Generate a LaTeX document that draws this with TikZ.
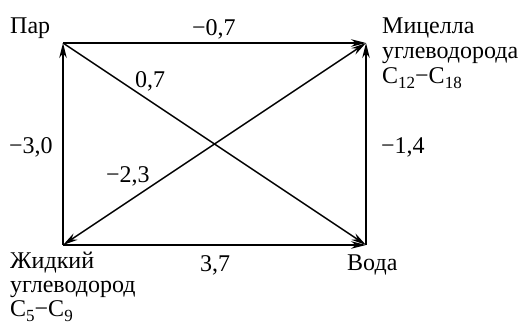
\documentclass[tikz,border=0pt]{standalone}
\usepackage{fontspec}
\setmainfont{Liberation Serif}
\usetikzlibrary{arrows.meta}
\newcommand{\lowsub}[1]{\raisebox{-5pt}{\fontsize{17}{17}\selectfont #1}}
\tikzset{
  lbl/.style={inner sep=0pt, anchor=base west, font=\fontsize{24}{25}\selectfont},
  con/.style={line width=1.5pt, -{Stealth[length=15pt,width=7.5pt]}},
  dcon/.style={line width=1.5pt, {Stealth[length=15pt,width=7.5pt]}-{Stealth[length=15pt,width=7.5pt]}}
}
\begin{document}
\begin{tikzpicture}[x=1pt,y=-1pt]
\useasboundingbox (0,0) rectangle (520,332);
% corners
\coordinate (par) at (63,43);
\coordinate (mic) at (366,43);
\coordinate (zhid) at (63,245);
\coordinate (voda) at (366,245);
% texts
\node[lbl] (tpar) at (10,33) {Пар};
\node[lbl] (tmic1) at (382,33) {Мицелла};
\node[lbl] (tmic2) at (382,58) {углеводорода};
\node[lbl] (tmic3) at (382,83) {C\lowsub{12}−C\lowsub{18}};
\node[lbl] (tzh1) at (10,268) {Жидкий};
\node[lbl] (tzh2) at (10,292) {углеводород};
\node[lbl] (tzh3) at (10,316) {C\lowsub{5}−C\lowsub{9}};
\node[lbl] (tvoda) at (347,270) {Вода};
% values
\node[lbl] (v1) at (192,35) {−0,7};
\node[lbl] (v2) at (135,87) {0,7};
\node[lbl] (v3) at (9,153) {−3,0};
\node[lbl] (v4) at (381,153) {−1,4};
\node[lbl] (v5) at (106,182) {−2,3};
\node[lbl] (v6) at (200,271) {3,7};
% connectors
\draw[con] (par) -- (mic);
\draw[con] (zhid) -- (par);
\draw[con] (voda) -- (mic);
\draw[con] (zhid) -- (voda);
\draw[con] (par) -- (voda);
\draw[dcon] (zhid) -- (mic);
\end{tikzpicture}
\end{document}
